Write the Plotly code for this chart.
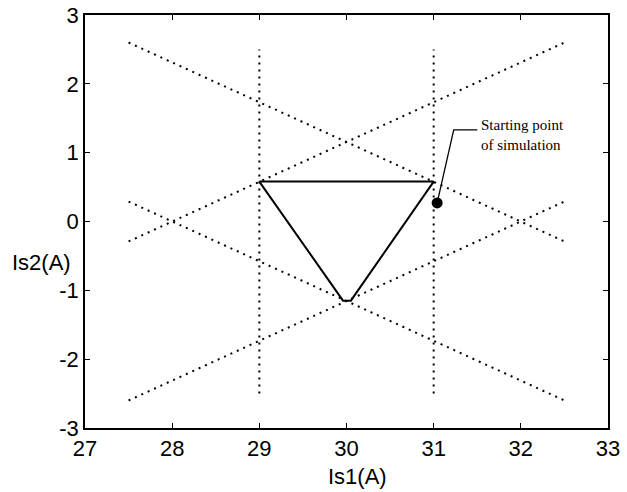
import plotly.graph_objects as go

# Dotted boundary lines (x endpoints, y endpoints)
diag_x = [27.5, 32.5]
diag_y1 = [2.6, -0.29]
diag_y2 = [0.29, -2.6]
diag_y3 = [-0.29, 2.6]
diag_y4 = [-2.6, 0.29]
vert_x = [29, 31]
vert_y = [-2.5, 2.5]

# Hysteresis triangle
tri_x = [29, 31, 30.05, 29.96, 29]
tri_y = [0.58, 0.58, -1.15, -1.15, 0.58]

# Starting point
start_x = [31.04]
start_y = [0.27]

# Annotation leader line
lead_x = [31.5, 31.23, 31.04]
lead_y = [1.33, 1.33, 0.27]

x_ticks = [27, 28, 29, 30, 31, 32, 33]
y_ticks = [-3, -2, -1, 0, 1, 2, 3]

fig = go.Figure()
dot = dict(color="black", width=2, dash="2px,5px")
for yy in (diag_y1, diag_y2, diag_y3, diag_y4):
    fig.add_trace(go.Scatter(x=diag_x, y=yy, mode="lines", line=dot))
for xv in vert_x:
    fig.add_trace(go.Scatter(x=[xv, xv], y=vert_y, mode="lines", line=dot))
fig.add_trace(go.Scatter(x=tri_x, y=tri_y, mode="lines",
                         line=dict(color="black", width=2)))
fig.add_trace(go.Scatter(x=lead_x, y=lead_y, mode="lines",
                         line=dict(color="black", width=1.3)))
fig.add_trace(go.Scatter(x=start_x, y=start_y, mode="markers",
                         marker=dict(color="black", size=11)))

fig.add_annotation(x=31.52, y=1.25, xref="x", yref="y", xanchor="left", yanchor="middle",
                   text="Starting point<br>of simulation", showarrow=False, align="left",
                   font=dict(family="Liberation Serif", size=15, color="black"))
fig.add_annotation(x=(10 - 85) / 523, y=(428 - 262) / 413, xref="paper", yref="paper",
                   xanchor="left", yanchor="middle", text="Is2(A)", showarrow=False,
                   font=dict(family="Liberation Sans", size=22, color="black"))
fig.add_annotation(x=(357 - 85) / 523, y=(428 - 476) / 413, xref="paper", yref="paper",
                   xanchor="center", yanchor="middle", text="Is1(A)", showarrow=False,
                   font=dict(family="Liberation Sans", size=22, color="black"))

axis_common = dict(showgrid=False, zeroline=False, showline=True, linecolor="black",
                   linewidth=1.5, mirror="ticks", ticks="inside", ticklen=5,
                   tickwidth=1.2, tickcolor="black", automargin=False,
                   tickfont=dict(family="Liberation Sans", size=22, color="black"))
fig.update_xaxes(range=[27, 33], tickvals=x_ticks, ticktext=[str(v) for v in x_ticks],
                 **axis_common)
fig.update_yaxes(range=[-3, 3], tickvals=y_ticks, ticktext=[str(v) for v in y_ticks],
                 **axis_common)
fig.update_layout(width=627, height=492, showlegend=False, hovermode=False,
                  margin=dict(l=85, r=19, t=15, b=64),
                  plot_bgcolor="white", paper_bgcolor="white")
# remove the page's default 8px body margin so the figure fills the window exactly
fig.write_html("out.html", config={"displayModeBar": False},
               post_script="document.body.style.margin='0';")
